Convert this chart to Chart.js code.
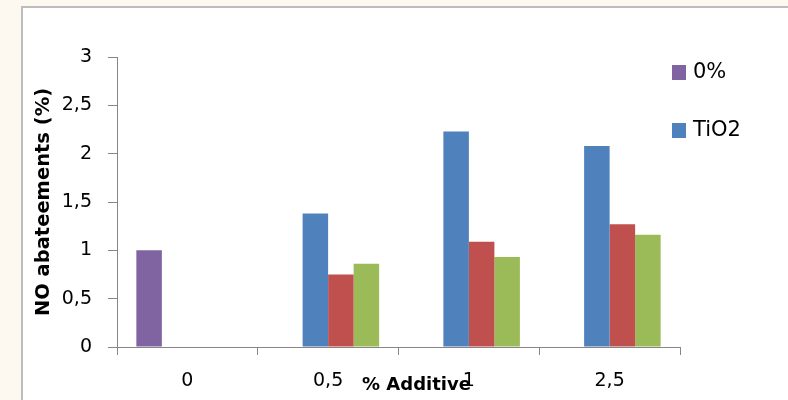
<!DOCTYPE html>
<html>
<head>
<meta charset="utf-8">
<script src="https://cdn.jsdelivr.net/npm/chart.js@4"></script>
<style>
  html, body { margin: 0; padding: 0; background: #fdf8f0; overflow: hidden; }
  #frame {
    position: absolute; left: 21px; top: 6px;
    width: 765px; height: 392px; background: #fff;
    border-left: 2px solid #bdbdbd; border-top: 2px solid #bdbdbd;
  }
  canvas { display: block; }
</style>
</head>
<body>
<div id="frame"><canvas id="chart" width="765" height="392"></canvas></div>
<script>
// % additive on the x axis
const CATEGORIES = ['0', '0,5', '1', '2,5'];
// NO abatement (%) per series
const REFERENCE = [1.0, null, null, null];
const TIO2 = [null, 1.38, 2.23, 2.08];
const SERIES_3 = [null, 0.75, 1.09, 1.27];
const SERIES_4 = [null, 0.86, 0.93, 1.16];
const Y_TICKS = [0, 0.5, 1, 1.5, 2, 2.5, 3];

const FONT = '"DejaVu Sans", sans-serif';
const AXIS_GREY = '#868686';

// legend (first two series only) and the x axis title, which sits
// a bit right of centre, over the tick labels
const extras = {
    id: 'extras',
    afterDraw(chart) {
        const ctx = chart.ctx;
        const area = chart.chartArea;
        ctx.save();
        ctx.textBaseline = 'middle';

        ctx.font = '21px ' + FONT;
        chart.data.datasets.filter(d => d.inLegend).forEach((d, i) => {
            const y = 57 + i * 58;
            ctx.fillStyle = d.backgroundColor;
            ctx.fillRect(649, y, 14, 15);
            ctx.fillStyle = '#000';
            ctx.fillText(d.label, 670, y + 8);
        });

        ctx.font = 'bold 18px ' + FONT;
        ctx.textAlign = 'center';
        ctx.fillStyle = '#000';
        ctx.fillText('% Additive', (area.left + area.right) / 2 + 18, 377);
        ctx.restore();
    }
};

new Chart(document.getElementById('chart'), {
    type: 'bar',
    data: {
        labels: CATEGORIES,
        datasets: [
            { label: '0%', data: REFERENCE, backgroundColor: '#8064a2', inLegend: true },
            { label: 'TiO2', data: TIO2, backgroundColor: '#4f81bd', inLegend: true },
            { label: 'Series 3', data: SERIES_3, backgroundColor: '#c0504d' },
            { label: 'Series 4', data: SERIES_4, backgroundColor: '#9bbb59' },
        ]
    },
    options: {
        responsive: false,
        animation: false,
        layout: { padding: { top: 49, right: 108, left: 0, bottom: 0 } },
        datasets: { bar: { barPercentage: 1, categoryPercentage: 0.725 } },
        plugins: {
            legend: { display: false },
            tooltip: { enabled: false },
        },
        scales: {
            x: {
                grid: { drawOnChartArea: false, color: AXIS_GREY, tickLength: 8 },
                border: { color: AXIS_GREY, width: 1 },
                ticks: { color: '#000', font: { family: FONT, size: 19 }, padding: 15, maxRotation: 0 },
                afterFit: s => { s.height = 53; },
            },
            y: {
                min: 0,
                max: 3,
                afterBuildTicks: s => { s.ticks = Y_TICKS.map(v => ({ value: v })); },
                grid: { drawOnChartArea: false, color: AXIS_GREY, tickLength: 9 },
                border: { color: AXIS_GREY, width: 1 },
                ticks: {
                    color: '#000',
                    font: { family: FONT, size: 19 },
                    padding: 16,
                    callback: v => String(v).replace('.', ','),
                },
                title: {
                    display: true,
                    text: 'NO abateements (%)',
                    color: '#000',
                    font: { family: FONT, size: 19.5, weight: 'bold' },
                    padding: { top: 9, bottom: 0 },
                },
                afterFit: s => { s.width = 94; },
            },
        },
    },
    plugins: [extras],
});
</script>
</body>
</html>
